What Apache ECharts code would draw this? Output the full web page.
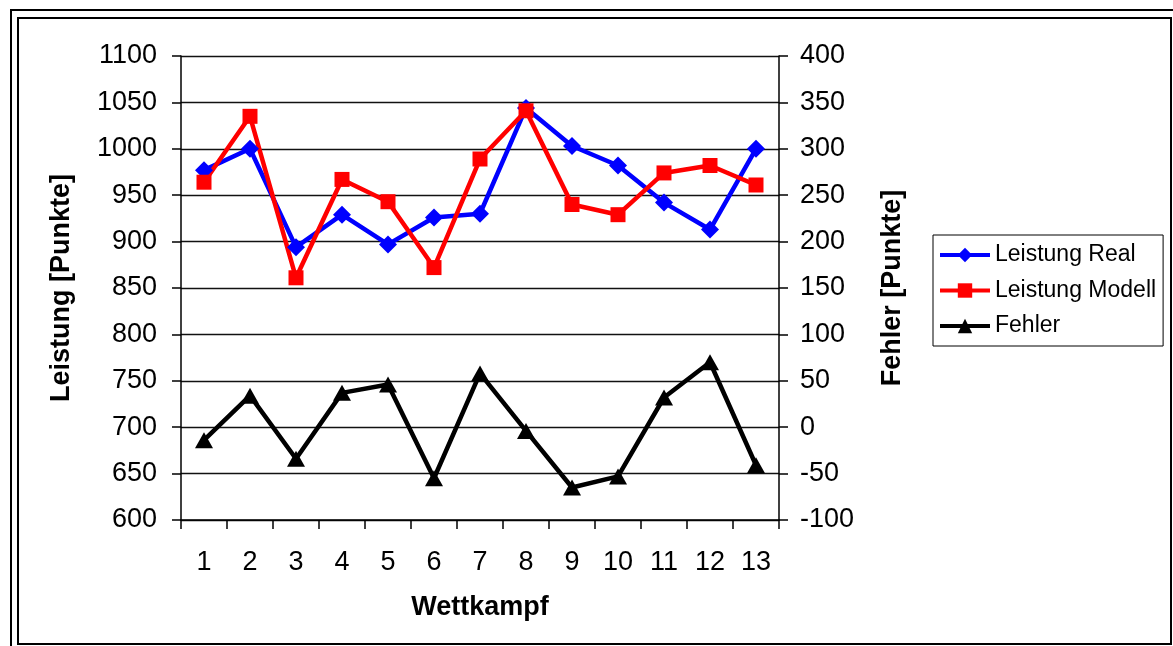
<!DOCTYPE html>
<html>
<head>
<meta charset="utf-8">
<script src="https://cdn.jsdelivr.net/npm/echarts@6/dist/echarts.min.js"></script>
<style>
html,body{margin:0;padding:0;background:#fff;}
#chart{width:1173px;height:646px;}
</style>
</head>
<body>
<div id="chart"></div>
<script>
var categories = ['1','2','3','4','5','6','7','8','9','10','11','12','13'];
var leistungReal = [977, 1000, 894, 929, 897, 926, 930, 1044, 1003, 982, 942, 913, 1000];
var leistungModell = [964, 1035, 861, 967, 943, 872, 989, 1041, 940, 929, 974, 982, 961];
var fehler = [-14, 34, -34, 37, 46, -55, 58, -4, -65, -53, 32, 70, -41];
var seriesNames = ['Leistung Real', 'Leistung Modell', 'Fehler'];

var FONT = "'Liberation Sans', Arial, sans-serif";
var plain = function (v) { return String(v); };
var chart = echarts.init(document.getElementById('chart'), null, {renderer: 'canvas'});
var option = {
  backgroundColor: '#ffffff',
  animation: false,
  textStyle: {fontFamily: FONT, color: '#000'},
  graphic: [
    {type: 'rect', shape: {x: 11, y: 10, width: 1250, height: 700}, style: {fill: 'none', stroke: '#000', lineWidth: 2}},
    {type: 'rect', shape: {x: 18, y: 18, width: 1153, height: 626}, style: {fill: 'none', stroke: '#000', lineWidth: 2}}
  ],
  grid: {left: 181, right: 394, top: 56, bottom: 126, containLabel: false},
  legend: {
    orient: 'vertical',
    left: 933, top: 235,
    padding: [8, 7, 8, 5],
    borderColor: '#000', borderWidth: 1,
    itemWidth: 50, itemHeight: 18, itemGap: 11.5,
    lineStyle: {width: 4},
    textStyle: {fontFamily: FONT, fontSize: 23, color: '#000', lineHeight: 24},
    data: seriesNames
  },
  xAxis: {
    type: 'category',
    data: categories,
    boundaryGap: true,
    name: 'Wettkampf',
    nameLocation: 'middle',
    nameGap: 74,
    nameTextStyle: {fontFamily: FONT, fontSize: 27, fontWeight: 'bold', color: '#000'},
    axisLine: {onZero: false, lineStyle: {color: '#000', width: 1.5}},
    axisTick: {show: true, length: 9, inside: false, alignWithLabel: false, lineStyle: {color: '#000', width: 1.5}},
    axisLabel: {fontFamily: FONT, fontSize: 27, color: '#000', margin: 29},
    splitLine: {show: false}
  },
  yAxis: [
    {
      type: 'value', min: 600, max: 1100, interval: 50, position: 'left',
      name: 'Leistung [Punkte]', nameLocation: 'middle', nameGap: 106, nameRotate: 90,
      nameTextStyle: {fontFamily: FONT, fontSize: 27, fontWeight: 'bold', color: '#000'},
      axisLine: {show: true, lineStyle: {color: '#000', width: 1.5}},
      axisTick: {show: true, length: 9, lineStyle: {color: '#000', width: 1.5}},
      axisLabel: {fontFamily: FONT, fontSize: 27, color: '#000', margin: 24, formatter: plain},
      splitLine: {show: true, lineStyle: {color: '#111', width: 1.3}}
    },
    {
      type: 'value', min: -100, max: 400, interval: 50, position: 'right',
      name: 'Fehler [Punkte]', nameLocation: 'middle', nameGap: 100, nameRotate: 90,
      nameTextStyle: {fontFamily: FONT, fontSize: 27, fontWeight: 'bold', color: '#000'},
      axisLine: {show: true, onZero: false, lineStyle: {color: '#000', width: 1.5}},
      axisTick: {show: true, length: 9, lineStyle: {color: '#000', width: 1.5}},
      axisLabel: {fontFamily: FONT, fontSize: 27, color: '#000', margin: 21, formatter: plain},
      splitLine: {show: false}
    }
  ],
  series: [
    {
      name: seriesNames[0], type: 'line', yAxisIndex: 0, data: leistungReal,
      symbol: 'diamond', symbolSize: 18,
      lineStyle: {color: '#0000ff', width: 4.5},
      itemStyle: {color: '#0000ff'}
    },
    {
      name: seriesNames[1], type: 'line', yAxisIndex: 0, data: leistungModell,
      symbol: 'rect', symbolSize: 15,
      lineStyle: {color: '#ff0000', width: 4.5},
      itemStyle: {color: '#ff0000'}
    },
    {
      name: seriesNames[2], type: 'line', yAxisIndex: 1, data: fehler,
      symbol: 'triangle', symbolSize: [18, 16],
      lineStyle: {color: '#000000', width: 4.5},
      itemStyle: {color: '#000000'}
    }
  ]
};
chart.setOption(option);
</script>
</body>
</html>
